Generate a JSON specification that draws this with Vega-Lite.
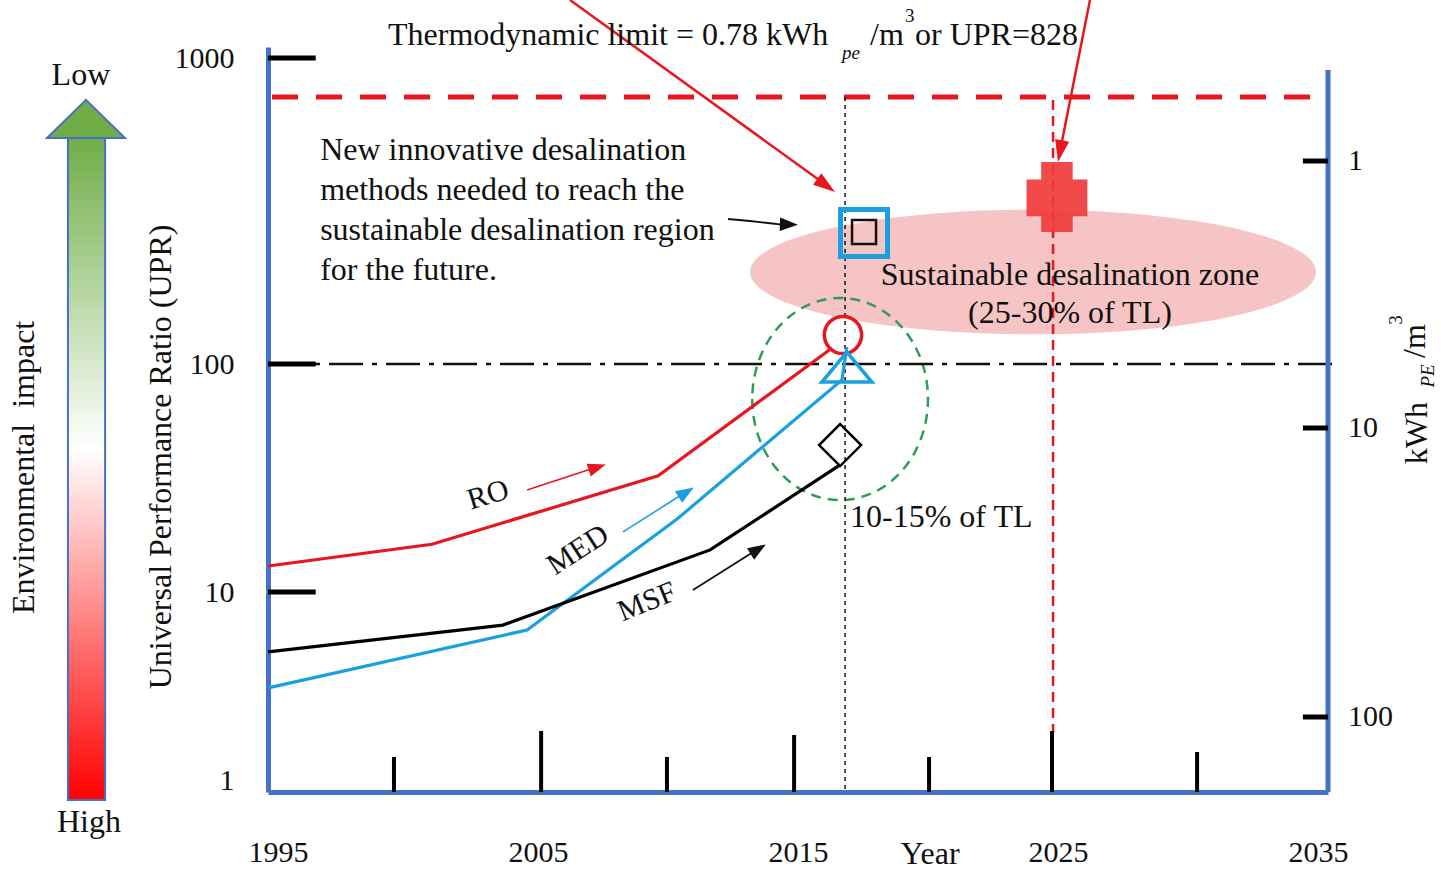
{
  "$schema": "https://vega.github.io/schema/vega-lite/v6.json",
  "width": 1060,
  "height": 745,
  "autosize": {"type": "none"},
  "padding": {"left": 268, "top": 47, "right": 113, "bottom": 81},
  "background": "white",
  "config": {"view": {"stroke": null}, "text": {"font": "Liberation Serif", "color": "#111111"}},
  "datasets": {
    "lines": [
      {"tech": "RO", "year": 1994.62, "upr": 13.0},
      {"tech": "RO", "year": 2000.92, "upr": 16.2},
      {"tech": "RO", "year": 2009.62, "upr": 32.3},
      {"tech": "RO", "year": 2016.31, "upr": 112.8},
      {"tech": "MED", "year": 1994.62, "upr": 3.09},
      {"tech": "MED", "year": 2004.58, "upr": 6.28},
      {"tech": "MED", "year": 2010.35, "upr": 20.9},
      {"tech": "MED", "year": 2016.69, "upr": 85.1},
      {"tech": "MED", "year": 2016.88, "upr": 113.6},
      {"tech": "MSF", "year": 1994.62, "upr": 4.8},
      {"tech": "MSF", "year": 2003.65, "upr": 6.67},
      {"tech": "MSF", "year": 2011.62, "upr": 15.3},
      {"tech": "MSF", "year": 2016.62, "upr": 36.1}
    ]
  },
  "layer": [
    {
      "layer": [
        {
          "data": {"values": [{"item": "Environmental impact", "x0": 1986.92, "x1": 1988.35, "top": 547.7, "bottom": 0.783}]},
          "mark": {"type": "rect", "fill": {"gradient": "linear", "x1": 0, "y1": 0, "x2": 0, "y2": 1, "stops": [{"offset": 0, "color": "#70ad47"}, {"offset": 0.47, "color": "#ffffff"}, {"offset": 1, "color": "#ff0000"}]}, "stroke": "#4472c4", "strokeWidth": 2},
          "encoding": {
            "x": {"field": "x0", "type": "quantitative", "scale": {"domain": [1994.615, 2035.385], "nice": false, "zero": false},
              "axis": {"values": [1995, 2005, 2015, 2025, 2035], "format": "d", "title": null, "grid": false, "ticks": false, "domainColor": "#4472c4", "domainWidth": 5, "labelFont": "Liberation Serif", "labelFontSize": 30, "labelColor": "#111111", "labelPadding": 45, "labelFlush": false, "labelOverlap": false, "labelBound": false}},
            "x2": {"field": "x1"},
            "y": {"field": "top", "type": "quantitative", "scale": {"type": "log", "domain": [0.8632, 1, 10, 100, 1000, 1086.3], "range": [745, 733, 545, 317, 11, 0], "nice": false, "zero": false},
              "axis": {"values": [1, 10, 100, 1000], "format": "d", "title": null, "grid": false, "ticks": false, "domainColor": "#4472c4", "domainWidth": 5, "labelFont": "Liberation Serif", "labelFontSize": 30, "labelColor": "#111111", "labelPadding": 34, "labelFlush": false, "labelOverlap": false, "labelBound": false}},
            "y2": {"field": "bottom"}
          }
        },
        {
          "data": {"values": [{"year": 1987.615, "upr": 632.0}]},
          "mark": {"type": "point", "shape": "M0,-0.49L1,0.49L-1,0.49Z", "size": 6084, "filled": true, "fill": "#70ad47", "stroke": "#4472c4", "strokeWidth": 2, "opacity": 1},
          "encoding": {"x": {"field": "year", "type": "quantitative"}, "y": {"field": "upr", "type": "quantitative"}}
        },
        {
          "data": {"values": [{"zone": "Sustainable desalination zone", "year": 2024.04, "upr": 199.8}]},
          "mark": {"type": "point", "shape": "M-1,0A1,0.22,0,1,0,1,0A1,0.22,0,1,0,-1,0Z", "size": 320356, "filled": true, "fill": "#f6c4c4", "strokeWidth": 0, "opacity": 1},
          "encoding": {"x": {"field": "year", "type": "quantitative"}, "y": {"field": "upr", "type": "quantitative"}}
        },
        {
          "data": {"values": [{"zone": "10-15% of TL", "year": 2016.62, "upr": 70.2}]},
          "mark": {"type": "point", "shape": "M-0.87,0A0.87,1,0,1,0,0.87,0A0.87,1,0,1,0,-0.87,0Z", "size": 40804, "filled": false, "stroke": "#2e9e55", "strokeWidth": 2.5, "strokeDash": [10, 7], "opacity": 1},
          "encoding": {"x": {"field": "year", "type": "quantitative"}, "y": {"field": "upr", "type": "quantitative"}}
        },
        {
          "data": {"values": [{"line": "Thermodynamic limit", "year": 1994.77, "year2": 2035.27, "upr": 745.6}]},
          "mark": {"type": "rule", "color": "#e8161e", "strokeWidth": 5, "strokeDash": [26, 18]},
          "encoding": {"x": {"field": "year", "type": "quantitative"}, "x2": {"field": "year2"}, "y": {"field": "upr", "type": "quantitative"}}
        },
        {
          "data": {"values": [{"line": "UPR 100", "year": 1994.77, "year2": 2035.65, "upr": 100}]},
          "mark": {"type": "rule", "color": "#111111", "strokeWidth": 2.5, "strokeDash": [34, 9, 5, 9]},
          "encoding": {"x": {"field": "year", "type": "quantitative"}, "x2": {"field": "year2"}, "y": {"field": "upr", "type": "quantitative"}}
        },
        {
          "data": {"values": [{"line": "today", "year": 2016.81, "upr": 745.6, "upr2": 0.8632}]},
          "mark": {"type": "rule", "color": "#111111", "strokeWidth": 1.5, "strokeDash": [4, 4]},
          "encoding": {"x": {"field": "year", "type": "quantitative"}, "y": {"field": "upr", "type": "quantitative"}, "y2": {"field": "upr2"}}
        },
        {
          "data": {"values": [{"line": "2025", "year": 2024.81, "upr": 729, "upr2": 1.778}]},
          "mark": {"type": "rule", "color": "#e8161e", "strokeWidth": 2.5, "strokeDash": [10, 6]},
          "encoding": {"x": {"field": "year", "type": "quantitative"}, "y": {"field": "upr", "type": "quantitative"}, "y2": {"field": "upr2"}}
        },
        {
          "data": {"values": [{"upr": 1000}, {"upr": 100}, {"upr": 10}]},
          "mark": {"type": "rule", "color": "#000000", "strokeWidth": 5},
          "encoding": {"x": {"datum": 1994.615, "type": "quantitative"}, "x2": {"datum": 1996.45}, "y": {"field": "upr", "type": "quantitative"}}
        },
        {
          "data": {"values": [
            {"year": 1999.46, "top": 1.325}, {"year": 2005.12, "top": 1.822}, {"year": 2009.96, "top": 1.325},
            {"year": 2014.85, "top": 1.735}, {"year": 2020.04, "top": 1.325}, {"year": 2024.77, "top": 1.822}, {"year": 2030.35, "top": 1.409}
          ]},
          "mark": {"type": "rule", "color": "#000000", "strokeWidth": 4},
          "encoding": {"x": {"field": "year", "type": "quantitative"}, "y": {"field": "top", "type": "quantitative"}, "y2": {"datum": 0.8632}}
        },
        {
          "data": {"values": [{"upr": 913.7, "upr2": 0.8632}]},
          "mark": {"type": "rule", "color": "#4472c4", "strokeWidth": 5},
          "encoding": {"x": {"datum": 2035.385, "type": "quantitative"}, "y": {"field": "upr", "type": "quantitative"}, "y2": {"field": "upr2"}}
        },
        {
          "data": {"name": "lines"},
          "mark": {"type": "line", "strokeWidth": 3.2},
          "encoding": {
            "x": {"field": "year", "type": "quantitative"},
            "y": {"field": "upr", "type": "quantitative"},
            "color": {"field": "tech", "type": "nominal", "scale": {"domain": ["RO", "MED", "MSF"], "range": ["#e8161e", "#1aa0e0", "#000000"]}, "legend": null}
          }
        },
        {
          "data": {"values": [{"tech": "RO", "year": 2016.73, "upr": 124.4}]},
          "mark": {"type": "point", "shape": "circle", "size": 1385, "filled": false, "stroke": "#e8161e", "strokeWidth": 3.5, "opacity": 1},
          "encoding": {"x": {"field": "year", "type": "quantitative"}, "y": {"field": "upr", "type": "quantitative"}}
        },
        {
          "data": {"values": [{"tech": "MED", "year": 2016.88, "upr": 97.0}]},
          "mark": {"type": "point", "shape": "M0,-0.6L1,0.6L-1,0.6Z", "size": 2500, "filled": false, "stroke": "#1aa0e0", "strokeWidth": 3.5, "opacity": 1},
          "encoding": {"x": {"field": "year", "type": "quantitative"}, "y": {"field": "upr", "type": "quantitative"}}
        },
        {
          "data": {"values": [{"tech": "MSF", "year": 2016.62, "upr": 44.1}]},
          "mark": {"type": "point", "shape": "M0,-1L1,0L0,1L-1,0Z", "size": 1764, "filled": false, "stroke": "#000000", "strokeWidth": 2.5, "opacity": 1},
          "encoding": {"x": {"field": "year", "type": "quantitative"}, "y": {"field": "upr", "type": "quantitative"}}
        },
        {
          "data": {"values": [{"tech": "new methods", "year": 2017.54, "upr": 268.0}]},
          "mark": {"type": "point", "shape": "square", "size": 2209, "filled": false, "stroke": "#1aa0e0", "strokeWidth": 5, "opacity": 1},
          "encoding": {"x": {"field": "year", "type": "quantitative"}, "y": {"field": "upr", "type": "quantitative"}}
        },
        {
          "data": {"values": [{"tech": "new methods", "year": 2017.54, "upr": 270.0}]},
          "mark": {"type": "point", "shape": "square", "size": 576, "filled": false, "stroke": "#111111", "strokeWidth": 2.5, "opacity": 1},
          "encoding": {"x": {"field": "year", "type": "quantitative"}, "y": {"field": "upr", "type": "quantitative"}}
        },
        {
          "data": {"values": [{"tech": "2025 target", "year": 2024.96, "upr": 351.4}]},
          "mark": {"type": "point", "shape": "M-0.45,-1H0.45V-0.5H0.87V0.55H0.45V1H-0.45V0.55H-0.87V-0.5H-0.45Z", "size": 4900, "filled": true, "fill": "#ef3b3b", "strokeWidth": 0, "opacity": 0.92},
          "encoding": {"x": {"field": "year", "type": "quantitative"}, "y": {"field": "upr", "type": "quantitative"}}
        },
        {
          "data": {"values": [
            {"year": 2006.23, "upr": 1546.9, "year2": 2016.08, "upr2": 384.6},
            {"year": 2026.23, "upr": 1546.9, "year2": 2025.08, "upr2": 496.7}
          ]},
          "mark": {"type": "rule", "color": "#e8161e", "strokeWidth": 2.5},
          "encoding": {"x": {"field": "year", "type": "quantitative"}, "x2": {"field": "year2"}, "y": {"field": "upr", "type": "quantitative"}, "y2": {"field": "upr2"}}
        },
        {
          "data": {"values": [{"year": 2004.58, "upr": 28.0, "year2": 2007.27, "upr2": 35.3}]},
          "mark": {"type": "rule", "color": "#e8161e", "strokeWidth": 1.6},
          "encoding": {"x": {"field": "year", "type": "quantitative"}, "x2": {"field": "year2"}, "y": {"field": "upr", "type": "quantitative"}, "y2": {"field": "upr2"}}
        },
        {
          "data": {"values": [{"year": 2008.27, "upr": 18.34, "year2": 2010.69, "upr2": 27.45}]},
          "mark": {"type": "rule", "color": "#1aa0e0", "strokeWidth": 1.6},
          "encoding": {"x": {"field": "year", "type": "quantitative"}, "x2": {"field": "year2"}, "y": {"field": "upr", "type": "quantitative"}, "y2": {"field": "upr2"}}
        },
        {
          "data": {"values": [{"year": 2010.96, "upr": 10.2, "year2": 2013.46, "upr2": 15.44}]},
          "mark": {"type": "rule", "color": "#111111", "strokeWidth": 1.8},
          "encoding": {"x": {"field": "year", "type": "quantitative"}, "x2": {"field": "year2"}, "y": {"field": "upr", "type": "quantitative"}, "y2": {"field": "upr2"}}
        },
        {
          "data": {"values": [{"year": 2012.31, "upr": 297.8}, {"year": 2013.15, "upr": 293.3}, {"year": 2013.85, "upr": 288.9}, {"year": 2014.38, "upr": 285.6}, {"year": 2014.65, "upr": 285.6}]},
          "mark": {"type": "line", "color": "#111111", "strokeWidth": 1.8},
          "encoding": {"x": {"field": "year", "type": "quantitative"}, "y": {"field": "upr", "type": "quantitative"}}
        },
        {
          "data": {"values": [{"year": 2016.08, "upr": 383.1}]},
          "mark": {"type": "point", "shape": "M0,-1L0.65,1L-0.65,1Z", "size": 484, "angle": 126, "filled": true, "fill": "#e8161e", "strokeWidth": 0, "opacity": 1},
          "encoding": {"x": {"field": "year", "type": "quantitative"}, "y": {"field": "upr", "type": "quantitative"}}
        },
        {
          "data": {"values": [{"year": 2025.08, "upr": 496.0}]},
          "mark": {"type": "point", "shape": "M0,-1L0.65,1L-0.65,1Z", "size": 484, "angle": 191, "filled": true, "fill": "#e8161e", "strokeWidth": 0, "opacity": 1},
          "encoding": {"x": {"field": "year", "type": "quantitative"}, "y": {"field": "upr", "type": "quantitative"}}
        },
        {
          "data": {"values": [{"year": 2007.28, "upr": 35.2}]},
          "mark": {"type": "point", "shape": "M0,-1L0.75,1L-0.75,1Z", "size": 324, "angle": 72, "filled": true, "fill": "#e8161e", "strokeWidth": 0, "opacity": 1},
          "encoding": {"x": {"field": "year", "type": "quantitative"}, "y": {"field": "upr", "type": "quantitative"}}
        },
        {
          "data": {"values": [{"year": 2010.7, "upr": 27.4}]},
          "mark": {"type": "point", "shape": "M0,-1L0.75,1L-0.75,1Z", "size": 324, "angle": 58, "filled": true, "fill": "#1aa0e0", "strokeWidth": 0, "opacity": 1},
          "encoding": {"x": {"field": "year", "type": "quantitative"}, "y": {"field": "upr", "type": "quantitative"}}
        },
        {
          "data": {"values": [{"year": 2013.47, "upr": 15.41}]},
          "mark": {"type": "point", "shape": "M0,-1L0.75,1L-0.75,1Z", "size": 324, "angle": 58, "filled": true, "fill": "#111111", "strokeWidth": 0, "opacity": 1},
          "encoding": {"x": {"field": "year", "type": "quantitative"}, "y": {"field": "upr", "type": "quantitative"}}
        },
        {
          "data": {"values": [{"year": 2014.65, "upr": 285.6}]},
          "mark": {"type": "point", "shape": "M0,-1L0.75,1L-0.75,1Z", "size": 324, "angle": 92, "filled": true, "fill": "#111111", "strokeWidth": 0, "opacity": 1},
          "encoding": {"x": {"field": "year", "type": "quantitative"}, "y": {"field": "upr", "type": "quantitative"}}
        },
        {
          "data": {"values": [
            {"t": "New innovative desalination", "year": 1996.62, "upr": 500.4},
            {"t": "methods needed to reach the", "year": 1996.62, "upr": 370.3},
            {"t": "sustainable desalination region", "year": 1996.62, "upr": 274.1},
            {"t": "for the future.", "year": 1996.62, "upr": 202.9},
            {"t": "10-15% of TL", "year": 2017.0, "upr": 21.3}
          ]},
          "mark": {"type": "text", "font": "Liberation Serif", "fontSize": 32, "align": "left", "baseline": "middle", "color": "#111111"},
          "encoding": {"x": {"field": "year", "type": "quantitative"}, "y": {"field": "upr", "type": "quantitative"}, "text": {"field": "t"}}
        },
        {
          "data": {"values": [
            {"t": "Sustainable desalination zone", "year": 2025.46, "upr": 195.3},
            {"t": "(25-30% of TL)", "year": 2025.46, "upr": 146.8},
            {"t": "Low", "year": 1987.42, "upr": 879.7},
            {"t": "High", "year": 1987.73, "upr": 0.598},
            {"t": "Year", "year": 2020.08, "upr": 0.404}
          ]},
          "mark": {"type": "text", "font": "Liberation Serif", "fontSize": 32, "align": "center", "baseline": "middle", "color": "#111111"},
          "encoding": {"x": {"field": "year", "type": "quantitative"}, "y": {"field": "upr", "type": "quantitative"}, "text": {"field": "t"}}
        },
        {
          "data": {"values": [
            {"t": "Environmental\u00a0 impact", "year": 1985.23, "upr": 35.2},
            {"t": "Universal Performance Ratio (UPR)", "year": 1990.5, "upr": 39.1},
            {"t": "kWh", "year": 2038.81, "upr": 49.8},
            {"t": "/m", "year": 2038.73, "upr": 118.9}
          ]},
          "mark": {"type": "text", "font": "Liberation Serif", "fontSize": 32, "angle": 270, "align": "center", "baseline": "middle", "color": "#111111"},
          "encoding": {"x": {"field": "year", "type": "quantitative"}, "y": {"field": "upr", "type": "quantitative"}, "text": {"field": "t"}}
        },
        {
          "data": {"values": [{"t": "PE", "year": 2039.23, "upr": 88.6}]},
          "mark": {"type": "text", "font": "Liberation Serif", "fontSize": 19, "fontStyle": "italic", "angle": 270, "align": "center", "baseline": "middle", "color": "#111111"},
          "encoding": {"x": {"field": "year", "type": "quantitative"}, "y": {"field": "upr", "type": "quantitative"}, "text": {"field": "t"}}
        },
        {
          "data": {"values": [{"t": "3", "year": 2038.0, "upr": 139.2}]},
          "mark": {"type": "text", "font": "Liberation Serif", "fontSize": 19, "angle": 270, "align": "center", "baseline": "middle", "color": "#111111"},
          "encoding": {"x": {"field": "year", "type": "quantitative"}, "y": {"field": "upr", "type": "quantitative"}, "text": {"field": "t"}}
        },
        {
          "data": {"values": [
            {"t": "Thermodynamic limit = 0.78 kWh", "year": 1999.23, "upr": 1189},
            {"t": "/m", "year": 2017.77, "upr": 1189}
          ]},
          "mark": {"type": "text", "font": "Liberation Serif", "fontSize": 32, "align": "left", "baseline": "middle", "color": "#111111"},
          "encoding": {"x": {"field": "year", "type": "quantitative"}, "y": {"field": "upr", "type": "quantitative"}, "text": {"field": "t"}}
        },
        {
          "data": {"values": [{"t": "pe", "year": 2016.69, "upr": 1038.3}]},
          "mark": {"type": "text", "font": "Liberation Serif", "fontSize": 19, "fontStyle": "italic", "align": "left", "baseline": "middle", "color": "#111111"},
          "encoding": {"x": {"field": "year", "type": "quantitative"}, "y": {"field": "upr", "type": "quantitative"}, "text": {"field": "t"}}
        },
        {
          "data": {"values": [{"t": "3", "year": 2019.12, "upr": 1371.5}]},
          "mark": {"type": "text", "font": "Liberation Serif", "fontSize": 19, "align": "left", "baseline": "middle", "color": "#111111"},
          "encoding": {"x": {"field": "year", "type": "quantitative"}, "y": {"field": "upr", "type": "quantitative"}, "text": {"field": "t"}}
        },
        {
          "data": {"values": [{"t": "or UPR=828", "year": 2025.77, "upr": 1189}]},
          "mark": {"type": "text", "font": "Liberation Serif", "fontSize": 32, "align": "right", "baseline": "middle", "color": "#111111"},
          "encoding": {"x": {"field": "year", "type": "quantitative"}, "y": {"field": "upr", "type": "quantitative"}, "text": {"field": "t"}}
        },
        {
          "data": {"values": [{"t": "RO", "year": 2003.08, "upr": 26.6}]},
          "mark": {"type": "text", "font": "Liberation Serif", "fontSize": 30, "angle": 343, "align": "center", "baseline": "middle", "color": "#111111"},
          "encoding": {"x": {"field": "year", "type": "quantitative"}, "y": {"field": "upr", "type": "quantitative"}, "text": {"field": "t"}}
        },
        {
          "data": {"values": [{"t": "MED", "year": 2006.54, "upr": 15.29}]},
          "mark": {"type": "text", "font": "Liberation Serif", "fontSize": 30, "angle": 327, "align": "center", "baseline": "middle", "color": "#111111"},
          "encoding": {"x": {"field": "year", "type": "quantitative"}, "y": {"field": "upr", "type": "quantitative"}, "text": {"field": "t"}}
        },
        {
          "data": {"values": [{"t": "MSF", "year": 2009.19, "upr": 8.85}]},
          "mark": {"type": "text", "font": "Liberation Serif", "fontSize": 30, "angle": 338, "align": "center", "baseline": "middle", "color": "#111111"},
          "encoding": {"x": {"field": "year", "type": "quantitative"}, "y": {"field": "upr", "type": "quantitative"}, "text": {"field": "t"}}
        }
      ]
    },
    {
      "data": {"values": [{"kwh": 1, "label": "1"}, {"kwh": 10, "label": "10"}, {"kwh": 100, "label": "100"}]},
      "layer": [
        {
          "mark": {"type": "rule", "color": "#000000", "strokeWidth": 5},
          "encoding": {
            "x": {"datum": 2034.42, "type": "quantitative"},
            "x2": {"datum": 2035.385},
            "y": {"field": "kwh", "type": "quantitative", "scale": {"type": "log", "domain": [1, 10, 100], "range": [114, 381, 670], "nice": false, "zero": false}, "axis": null}
          }
        },
        {
          "mark": {"type": "text", "font": "Liberation Serif", "fontSize": 30, "align": "left", "baseline": "middle", "color": "#111111"},
          "encoding": {
            "x": {"datum": 2036.15, "type": "quantitative"},
            "y": {"field": "kwh", "type": "quantitative"},
            "text": {"field": "label"}
          }
        }
      ]
    }
  ],
  "resolve": {"scale": {"y": "independent"}}
}
